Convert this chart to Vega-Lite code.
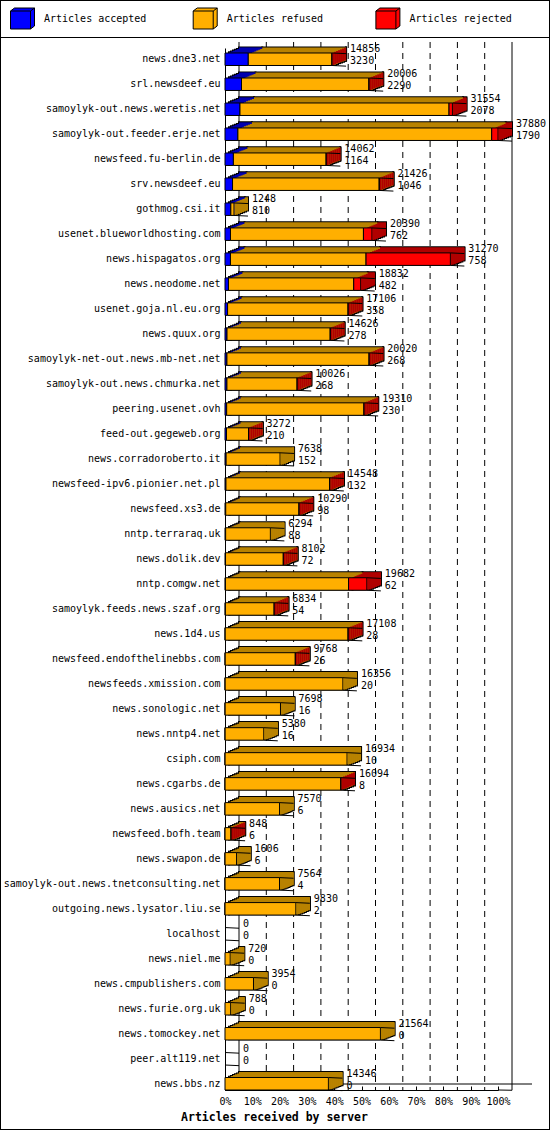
{
  "$schema": "https://vega.github.io/schema/vega-lite/v6.json",
  "width": 550,
  "height": 1130,
  "autosize": "none",
  "padding": 0,
  "background": "white",
  "config": {
    "view": {"stroke": "black", "strokeWidth": 2},
    "font": "DejaVu Sans Mono"
  },
  "data": {
    "values": [
      {"host": "news.dne3.net", "accepted": 3230, "refused": 11606, "rejected": 20, "total": 14856},
      {"host": "srl.newsdeef.eu", "accepted": 2290, "refused": 17676, "rejected": 40, "total": 20006},
      {"host": "samoylyk-out.news.weretis.net", "accepted": 2078, "refused": 29006, "rejected": 470, "total": 31554},
      {"host": "samoylyk-out.feeder.erje.net", "accepted": 1790, "refused": 35215, "rejected": 875, "total": 37880},
      {"host": "newsfeed.fu-berlin.de", "accepted": 1164, "refused": 12868, "rejected": 30, "total": 14062},
      {"host": "srv.newsdeef.eu", "accepted": 1046, "refused": 20350, "rejected": 30, "total": 21426},
      {"host": "gothmog.csi.it", "accepted": 810, "refused": 438, "rejected": 0, "total": 1248},
      {"host": "usenet.blueworldhosting.com", "accepted": 762, "refused": 18448, "rejected": 1180, "total": 20390},
      {"host": "news.hispagatos.org", "accepted": 758, "refused": 18812, "rejected": 11700, "total": 31270},
      {"host": "news.neodome.net", "accepted": 482, "refused": 17380, "rejected": 970, "total": 18832},
      {"host": "usenet.goja.nl.eu.org", "accepted": 358, "refused": 16718, "rejected": 30, "total": 17106},
      {"host": "news.quux.org", "accepted": 278, "refused": 14318, "rejected": 30, "total": 14626},
      {"host": "samoylyk-net-out.news.mb-net.net", "accepted": 268, "refused": 19722, "rejected": 30, "total": 20020},
      {"host": "samoylyk-out.news.chmurka.net", "accepted": 268, "refused": 9738, "rejected": 20, "total": 10026},
      {"host": "peering.usenet.ovh", "accepted": 230, "refused": 19050, "rejected": 30, "total": 19310},
      {"host": "feed-out.gegeweb.org", "accepted": 210, "refused": 3052, "rejected": 10, "total": 3272},
      {"host": "news.corradoroberto.it", "accepted": 152, "refused": 7486, "rejected": 0, "total": 7638},
      {"host": "newsfeed-ipv6.pionier.net.pl", "accepted": 132, "refused": 14396, "rejected": 20, "total": 14548},
      {"host": "newsfeed.xs3.de", "accepted": 98, "refused": 10172, "rejected": 20, "total": 10290},
      {"host": "nntp.terraraq.uk", "accepted": 88, "refused": 6206, "rejected": 0, "total": 6294},
      {"host": "news.dolik.dev", "accepted": 72, "refused": 8020, "rejected": 10, "total": 8102},
      {"host": "nntp.comgw.net", "accepted": 62, "refused": 17080, "rejected": 2540, "total": 19682},
      {"host": "samoylyk.feeds.news.szaf.org", "accepted": 54, "refused": 6770, "rejected": 10, "total": 6834},
      {"host": "news.1d4.us", "accepted": 28, "refused": 17050, "rejected": 30, "total": 17108},
      {"host": "newsfeed.endofthelinebbs.com", "accepted": 26, "refused": 9732, "rejected": 10, "total": 9768},
      {"host": "newsfeeds.xmission.com", "accepted": 20, "refused": 16336, "rejected": 0, "total": 16356},
      {"host": "news.sonologic.net", "accepted": 16, "refused": 7682, "rejected": 0, "total": 7698},
      {"host": "news.nntp4.net", "accepted": 16, "refused": 5364, "rejected": 0, "total": 5380},
      {"host": "csiph.com", "accepted": 10, "refused": 16924, "rejected": 0, "total": 16934},
      {"host": "news.cgarbs.de", "accepted": 8, "refused": 16066, "rejected": 20, "total": 16094},
      {"host": "news.ausics.net", "accepted": 6, "refused": 7564, "rejected": 0, "total": 7570},
      {"host": "newsfeed.bofh.team", "accepted": 6, "refused": 832, "rejected": 10, "total": 848},
      {"host": "news.swapon.de", "accepted": 6, "refused": 1600, "rejected": 0, "total": 1606},
      {"host": "samoylyk-out.news.tnetconsulting.net", "accepted": 4, "refused": 7560, "rejected": 0, "total": 7564},
      {"host": "outgoing.news.lysator.liu.se", "accepted": 2, "refused": 9828, "rejected": 0, "total": 9830},
      {"host": "localhost", "accepted": 0, "refused": 0, "rejected": 0, "total": 0},
      {"host": "news.niel.me", "accepted": 0, "refused": 720, "rejected": 0, "total": 720},
      {"host": "news.cmpublishers.com", "accepted": 0, "refused": 3954, "rejected": 0, "total": 3954},
      {"host": "news.furie.org.uk", "accepted": 0, "refused": 788, "rejected": 0, "total": 788},
      {"host": "news.tomockey.net", "accepted": 0, "refused": 21564, "rejected": 0, "total": 21564},
      {"host": "peer.alt119.net", "accepted": 0, "refused": 0, "rejected": 0, "total": 0},
      {"host": "news.bbs.nz", "accepted": 0, "refused": 14346, "rejected": 0, "total": 14346}
    ]
  },
  "layer": [
    {
      "data": {"values": [
        {"v": 0}, {"v": 3788}, {"v": 7576}, {"v": 11364}, {"v": 15152}, {"v": 18940},
        {"v": 22728}, {"v": 26516}, {"v": 30304}, {"v": 34092}, {"v": 37880}
      ]},
      "mark": {"type": "rule", "color": "black", "strokeWidth": 1, "xOffset": 14, "yOffset": -11, "y2Offset": 6.5},
      "encoding": {
        "x": {"field": "v", "type": "quantitative"},
        "y": {"datum": "news.dne3.net", "type": "nominal", "bandPosition": 0},
        "y2": {"datum": "news.bbs.nz"},
        "strokeDash": {"condition": {"test": "datum.v == 0 || datum.v == 37880", "value": [1, 0]}, "value": [6, 5]}
      }
    },
    {
      "data": {"values": [{"v": 0}]},
      "mark": {"type": "rule", "color": "black", "xOffset": 14, "x2Offset": 34, "yOffset": -6},
      "encoding": {
        "x": {"datum": 0, "type": "quantitative"},
        "x2": {"datum": 37880},
        "y": {"datum": "news.bbs.nz", "type": "nominal", "bandPosition": 1}
      }
    },
    {
      "data": {"values": [{"v": 0}, {"v": 37880}]},
      "mark": {"type": "rule", "color": "black", "x2Offset": 14, "y2Offset": 6.5},
      "encoding": {
        "x": {"field": "v", "type": "quantitative"},
        "x2": {"field": "v"},
        "y": {"datum": "news.bbs.nz", "type": "nominal", "bandPosition": 1},
        "y2": {"datum": "news.bbs.nz"}
      }
    },
    {
      "transform": [
        {"fold": ["accepted", "refused", "rejected"], "as": ["type", "value"]},
        {"filter": "datum.value > 0"}
      ],
      "encoding": {
        "y": {
          "field": "host",
          "type": "nominal",
          "scale": {
            "domain": ["news.dne3.net", "srl.newsdeef.eu", "samoylyk-out.news.weretis.net", "samoylyk-out.feeder.erje.net", "newsfeed.fu-berlin.de", "srv.newsdeef.eu", "gothmog.csi.it", "usenet.blueworldhosting.com", "news.hispagatos.org", "news.neodome.net", "usenet.goja.nl.eu.org", "news.quux.org", "samoylyk-net-out.news.mb-net.net", "samoylyk-out.news.chmurka.net", "peering.usenet.ovh", "feed-out.gegeweb.org", "news.corradoroberto.it", "newsfeed-ipv6.pionier.net.pl", "newsfeed.xs3.de", "nntp.terraraq.uk", "news.dolik.dev", "nntp.comgw.net", "samoylyk.feeds.news.szaf.org", "news.1d4.us", "newsfeed.endofthelinebbs.com", "newsfeeds.xmission.com", "news.sonologic.net", "news.nntp4.net", "csiph.com", "news.cgarbs.de", "news.ausics.net", "newsfeed.bofh.team", "news.swapon.de", "samoylyk-out.news.tnetconsulting.net", "outgoing.news.lysator.liu.se", "localhost", "news.niel.me", "news.cmpublishers.com", "news.furie.org.uk", "news.tomockey.net", "peer.alt119.net", "news.bbs.nz"],
            "range": [48, 1090],
            "paddingInner": 0.5,
            "paddingOuter": 0.1,
            "align": 1
          },
          "axis": {
            "orient": "left",
            "offset": -225,
            "title": null,
            "ticks": false,
            "grid": false,
            "domainColor": "black",
            "labelColor": "black",
            "labelFont": "DejaVu Sans Mono",
            "labelFontSize": 10,
            "labelPadding": 5,
            "labelLimit": 0
          }
        },
        "x": {
          "field": "value",
          "type": "quantitative",
          "stack": "zero",
          "scale": {"domain": [0, 37880], "range": [225, 498], "nice": false, "zero": true},
          "axis": {
            "orient": "bottom",
            "offset": -40,
            "values": [0, 3788, 7576, 11364, 15152, 18940, 22728, 26516, 30304, 34092, 37880],
            "labelExpr": "format(datum.value / 37880, '.0%')",
            "grid": false,
            "domainColor": "black",
            "tickColor": "black",
            "tickSize": -4,
            "labelPadding": 10,
            "labelFlush": false,
            "labelOverlap": false,
            "labelColor": "black",
            "labelFont": "DejaVu Sans Mono",
            "labelFontSize": 10,
            "title": "Articles received by server",
            "titleFont": "DejaVu Sans Mono",
            "titleFontSize": 11.5,
            "titleFontWeight": "bold",
            "titleColor": "black",
            "titleX": 274,
            "titleY": 21,
            "titleAlign": "center",
            "titleBaseline": "top"
          }
        },
        "detail": {"field": "type"}
      },
      "layer": [
        {
          "layer": [
            {"mark": {"type": "bar", "fill": "black", "stroke": "black", "strokeWidth": 2, "xOffset": 14, "x2Offset": 14, "yOffset": -5.6, "y2Offset": -5.6}},
            {"mark": {"type": "bar", "fill": "black", "stroke": "black", "strokeWidth": 2, "xOffset": 14, "x2Offset": 12, "yOffset": -4.8, "y2Offset": -4.8}},
            {"mark": {"type": "bar", "fill": "black", "stroke": "black", "strokeWidth": 2, "xOffset": 12, "x2Offset": 10, "yOffset": -4, "y2Offset": -4}},
            {"mark": {"type": "bar", "fill": "black", "stroke": "black", "strokeWidth": 2, "xOffset": 10, "x2Offset": 8, "yOffset": -3.2, "y2Offset": -3.2}},
            {"mark": {"type": "bar", "fill": "black", "stroke": "black", "strokeWidth": 2, "xOffset": 8, "x2Offset": 6, "yOffset": -2.4, "y2Offset": -2.4}},
            {"mark": {"type": "bar", "fill": "black", "stroke": "black", "strokeWidth": 2, "xOffset": 6, "x2Offset": 4, "yOffset": -1.6, "y2Offset": -1.6}},
            {"mark": {"type": "bar", "fill": "black", "stroke": "black", "strokeWidth": 2, "xOffset": 4, "x2Offset": 2, "yOffset": -0.8, "y2Offset": -0.8}}
          ]
        },
        {
          "encoding": {
            "fill": {
              "condition": [
                {"test": "datum.type === 'accepted'", "value": "#0000B0"},
                {"test": "datum.type === 'rejected'", "value": "#B00000"}
              ],
              "value": "#B88200"
            }
          },
          "layer": [
            {"mark": {"type": "bar", "strokeWidth": 0, "xOffset": 14, "x2Offset": 14, "yOffset": -5.6, "y2Offset": -5.6}},
            {"mark": {"type": "bar", "strokeWidth": 0, "xOffset": 14, "x2Offset": 12, "yOffset": -4.8, "y2Offset": -4.8}},
            {"mark": {"type": "bar", "strokeWidth": 0, "xOffset": 12, "x2Offset": 10, "yOffset": -4, "y2Offset": -4}},
            {"mark": {"type": "bar", "strokeWidth": 0, "xOffset": 10, "x2Offset": 8, "yOffset": -3.2, "y2Offset": -3.2}},
            {"mark": {"type": "bar", "strokeWidth": 0, "xOffset": 8, "x2Offset": 6, "yOffset": -2.4, "y2Offset": -2.4}},
            {"mark": {"type": "bar", "strokeWidth": 0, "xOffset": 6, "x2Offset": 4, "yOffset": -1.6, "y2Offset": -1.6}},
            {"mark": {"type": "bar", "strokeWidth": 0, "xOffset": 4, "x2Offset": 2, "yOffset": -0.8, "y2Offset": -0.8}}
          ]
        },
        {
          "mark": {"type": "bar", "stroke": "black", "strokeWidth": 1},
          "encoding": {
            "color": {
              "field": "type",
              "type": "nominal",
              "scale": {"domain": ["accepted", "refused", "rejected"], "range": ["#0000FF", "#FFAF00", "#FF0000"]},
              "legend": {
                "orient": "none",
                "legendX": 0,
                "legendY": 0,
                "direction": "horizontal",
                "columns": 3,
                "gridAlign": "all",
                "title": "     ",
                "titleOrient": "right",
                "titlePadding": 34,
                "titleFont": "DejaVu Sans Mono",
                "titleFontSize": 10,
                "strokeColor": "black",
                "padding": 6,
                "symbolOffset": 4,
                "symbolType": "M-1,-0.625L-0.667,-0.875L1,-0.875L1,0.625L0.667,0.875L-1,0.875ZM-1,-0.625L0.667,-0.625L0.667,0.875M0.667,-0.625L1,-0.875",
                "symbolSize": 576,
                "symbolStrokeColor": "black",
                "symbolStrokeWidth": 1,
                "symbolOpacity": 1,
                "labelFont": "DejaVu Sans Mono",
                "labelFontSize": 10,
                "labelColor": "black",
                "labelOffset": 9,
                "columnPadding": 41.7,
                "labelExpr": "'Articles ' + datum.label"
              }
            }
          }
        }
      ]
    },
    {
      "transform": [{"filter": "datum.total > 0"}],
      "encoding": {
        "x": {"field": "total", "type": "quantitative"},
        "x2": {"field": "total"},
        "y": {"field": "host", "type": "nominal"},
        "fill": {
          "condition": [
            {"test": "datum.rejected > 0", "value": "#B00000"},
            {"test": "datum.refused > 0", "value": "#B88200"}
          ],
          "value": "#0000B0"
        }
      },
      "layer": [
        {"mark": {"type": "bar", "strokeWidth": 0, "xOffset": 14, "x2Offset": 12, "yOffset": -5.2, "y2Offset": -5.2}},
        {"mark": {"type": "bar", "strokeWidth": 0, "xOffset": 12, "x2Offset": 10, "yOffset": -4.4, "y2Offset": -4.4}},
        {"mark": {"type": "bar", "strokeWidth": 0, "xOffset": 10, "x2Offset": 8, "yOffset": -3.6, "y2Offset": -3.6}},
        {"mark": {"type": "bar", "strokeWidth": 0, "xOffset": 8, "x2Offset": 6, "yOffset": -2.8, "y2Offset": -2.8}},
        {"mark": {"type": "bar", "strokeWidth": 0, "xOffset": 6, "x2Offset": 4, "yOffset": -2, "y2Offset": -2}},
        {"mark": {"type": "bar", "strokeWidth": 0, "xOffset": 4, "x2Offset": 2, "yOffset": -1.2, "y2Offset": -1.2}},
        {"mark": {"type": "bar", "strokeWidth": 0, "xOffset": 2, "x2Offset": 0.5, "yOffset": -0.4, "y2Offset": -0.4}}
      ]
    },
    {
      "mark": {"type": "rule", "color": "black", "x2Offset": 14, "y2Offset": -5.6},
      "encoding": {
        "x": {"field": "total", "type": "quantitative"},
        "x2": {"field": "total"},
        "y": {"field": "host", "type": "nominal", "bandPosition": 0},
        "y2": {"field": "host"}
      }
    },
    {
      "mark": {"type": "rule", "color": "black", "x2Offset": 14, "y2Offset": 6.9},
      "encoding": {
        "x": {"field": "total", "type": "quantitative"},
        "x2": {"field": "total"},
        "y": {"field": "host", "type": "nominal", "bandPosition": 1},
        "y2": {"field": "host"}
      }
    },
    {
      "mark": {"type": "text", "align": "left", "baseline": "middle", "dx": 18, "dy": -10, "font": "DejaVu Sans Mono", "fontSize": 10, "color": "black"},
      "encoding": {
        "x": {"field": "total", "type": "quantitative"},
        "y": {"field": "host", "type": "nominal"},
        "text": {"field": "total", "type": "nominal"}
      }
    },
    {
      "mark": {"type": "text", "align": "left", "baseline": "middle", "dx": 18, "dy": 2, "font": "DejaVu Sans Mono", "fontSize": 10, "color": "black"},
      "encoding": {
        "x": {"field": "total", "type": "quantitative"},
        "y": {"field": "host", "type": "nominal"},
        "text": {"field": "accepted", "type": "nominal"}
      }
    }
  ]
}
